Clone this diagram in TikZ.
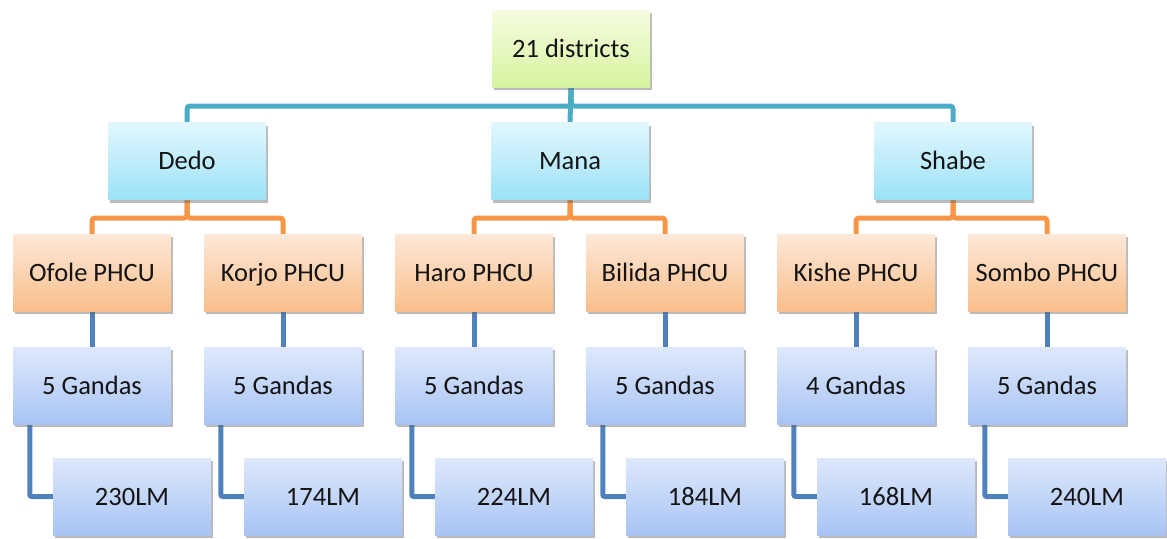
\documentclass[tikz,border=0pt]{standalone}
\usepackage{fontspec}
\setmainfont{Carlito}
\usetikzlibrary{shadows,backgrounds}
\definecolor{teal1}{HTML}{4BACC6}
\definecolor{orange1}{HTML}{F79646}
\definecolor{blue1}{HTML}{4F81BD}
\tikzset{
  box/.style={minimum width=158pt, minimum height=77pt, inner sep=0pt,
    text height=20pt, text depth=3pt,
    font=\fontsize{26.5}{30}\selectfont, text=black!92,
    drop shadow={shadow xshift=2pt, shadow yshift=-3pt, opacity=0.45, fill=black!60}},
  rootbox/.style={box, top color={rgb,255:red,246;green,252;blue,224}, bottom color={rgb,255:red,214;green,244;blue,160}},
  distbox/.style={box, top color={rgb,255:red,226;green,247;blue,253}, bottom color={rgb,255:red,156;green,226;blue,248}},
  phcubox/.style={box, top color={rgb,255:red,253;green,232;blue,216}, bottom color={rgb,255:red,250;green,190;blue,138}},
  gandabox/.style={box, top color={rgb,255:red,222;green,232;blue,252}, bottom color={rgb,255:red,168;green,196;blue,244}},
  tealline/.style={draw=teal1, line width=5pt, rounded corners=3pt},
  orangeline/.style={draw=orange1, line width=5pt, rounded corners=3pt},
  blueline/.style={draw=blue1, line width=5pt, rounded corners=2pt},
}
\begin{document}
\begin{tikzpicture}[x=1pt, y=-1pt]
\useasboundingbox (0,0) rectangle (1167,538);
% junction points of the elbow connectors
\coordinate (tj) at (571,106);
\coordinate (dj) at (187,218);
\coordinate (mj) at (570,218);
\coordinate (sj) at (953,218);

% top level
\node[rootbox] (root) at (571,48.5) {21 districts};
% districts
\node[distbox] (dedo) at (187,161) {Dedo};
\node[distbox] (mana) at (570,161) {Mana};
\node[distbox] (shabe) at (953,161) {Shabe};
% health centre units
\node[phcubox] (p1) at (92,272.5) {Ofole PHCU};
\node[phcubox] (p2) at (283,272.5) {Korjo PHCU};
\node[phcubox] (p3) at (474,272.5) {Haro PHCU};
\node[phcubox] (p4) at (665,272.5) {Bilida PHCU};
\node[phcubox] (p5) at (856,272.5) {Kishe PHCU};
\node[phcubox] (p6) at (1047,272.5) {Sombo PHCU};
% gandas
\node[gandabox] (g1) at (92,385.5) {5 Gandas};
\node[gandabox] (g2) at (283,385.5) {5 Gandas};
\node[gandabox] (g3) at (474,385.5) {5 Gandas};
\node[gandabox] (g4) at (665,385.5) {5 Gandas};
\node[gandabox] (g5) at (856,385.5) {4 Gandas};
\node[gandabox] (g6) at (1047,385.5) {5 Gandas};
% counts
\node[gandabox] (l1) at (132,496.5) {230LM};
\node[gandabox] (l2) at (323,496.5) {174LM};
\node[gandabox] (l3) at (514,496.5) {224LM};
\node[gandabox] (l4) at (705,496.5) {184LM};
\node[gandabox] (l5) at (896,496.5) {168LM};
\node[gandabox] (l6) at (1087,496.5) {240LM};

\begin{scope}[on background layer]
% root to districts
\draw[tealline] (root.south) -- (mana.north);
\draw[tealline] (root.south) |- (tj) -| (dedo.north);
\draw[tealline] (root.south) |- (tj) -| (shabe.north);
% districts to units
\draw[orangeline] (dedo.south) |- (dj) -| (p1.north);
\draw[orangeline] (dedo.south) |- (dj) -| (p2.north);
\draw[orangeline] (mana.south) |- (mj) -| (p3.north);
\draw[orangeline] (mana.south) |- (mj) -| (p4.north);
\draw[orangeline] (shabe.south) |- (sj) -| (p5.north);
\draw[orangeline] (shabe.south) |- (sj) -| (p6.north);
% units to gandas, gandas to counts
\foreach \i in {1,...,6}{
  \draw[blueline] (p\i.south) -- (g\i.north);
  \draw[blueline] ([xshift=17pt]g\i.south west) |- (l\i.west);
}
\end{scope}
\end{tikzpicture}
\end{document}
